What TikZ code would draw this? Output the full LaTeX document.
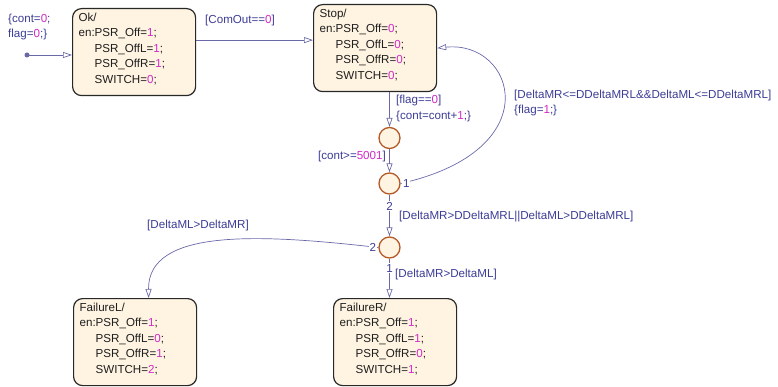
\documentclass[tikz,border=0pt]{standalone}
\usepackage{fontspec}
\setmainfont{Liberation Sans}
\usetikzlibrary{arrows.meta}
\definecolor{boxfill}{RGB}{255,244,226}
\definecolor{boxline}{RGB}{40,40,40}
\definecolor{boxtext}{RGB}{30,30,30}
\definecolor{juncline}{RGB}{180,90,40}
\definecolor{trcol}{RGB}{105,105,170}
\definecolor{lblcol}{RGB}{60,60,150}
\definecolor{numcol}{RGB}{210,40,200}
\newcommand{\nm}[1]{\textcolor{numcol}{#1}}
\newcommand{\stbody}[5]{\parbox[t][79pt][t]{111pt}{\fontsize{11.6}{15.5}\selectfont
  #1/\\en:PSR\_Off=\nm{#2};\\\hspace*{16pt}PSR\_OffL=\nm{#3};\\
  \hspace*{16pt}PSR\_OffR=\nm{#4};\\\hspace*{16pt}SWITCH=\nm{#5};}}

\begin{document}
\begin{tikzpicture}[x=1pt,y=-1pt,
    state/.style={draw=boxline, fill=boxfill, rounded corners=9pt, line width=1.2pt,
      minimum width=123pt, minimum height=87pt, inner sep=0pt, anchor=north west, text=boxtext},
    junc/.style={circle, draw=juncline, fill=boxfill, line width=1.3pt, minimum size=21pt, inner sep=0pt},
    tr/.style={draw=trcol, line width=0.7pt, -{Triangle[open,length=9pt,width=6pt]}},
    lbl/.style={text=lblcol, inner sep=0pt, font=\fontsize{11.6}{15.5}\selectfont, align=left},
    ord/.style={text=lblcol, fill=white, inner sep=1pt, font=\fontsize{11.6}{12}\selectfont}]
        \useasboundingbox (0,0) rectangle (778,387);
        % states
        \node[state] (ok) at (72,8) {\stbody{Ok}{1}{1}{1}{0}};
        \node[state] (stop) at (313,4) {\stbody{Stop}{0}{0}{0}{0}};
        \node[state] (failL) at (73,298) {\stbody{FailureL}{1}{0}{1}{2}};
        \node[state] (failR) at (333,298) {\stbody{FailureR}{1}{1}{0}{1}};
        % junctions
        \node[junc] (j1) at (389.5,138) {};
        \node[junc] (j2) at (389.5,183.5) {};
        \node[junc] (j3) at (389.5,247.5) {};
        % default transition
        \coordinate (init) at (27,55);
        \fill[trcol] (init) circle (2.5pt);
        \draw[tr] (init) -- (init -| ok.west);
        \node[lbl, anchor=west] (initlbl) at (8,27) {\{cont=\nm{0};\\flag=\nm{0};\}};
        % transitions
        \draw[tr] ([yshift=12pt]ok.east) -- ([yshift=12pt]ok.east -| stop.west);
        \node[lbl, anchor=west] (comlbl) at (205,21) {[ComOut==\nm{0}]};
        \draw[tr] (j1 |- stop.south) -- (j1);
        \node[lbl, anchor=west] (flaglbl) at (396,108.5) {[flag==\nm{0}]\\\{cont=cont+\nm{1};\}};
        \draw[tr] (j1) -- (j2);
        \node[lbl, anchor=east] (contlbl) at (386,157) {[cont>=\nm{5001}]};
        \draw[tr] (j2.east) .. controls (550,150) and (515,40) ..
            node[ord, at start, anchor=west, xshift=1pt] (o1) {1} (stop.east);
        \node[lbl, anchor=west] (backlbl) at (514,103)
            {[DeltaMR<=DDeltaMRL\&\&DeltaML<=DDeltaMRL]\\\{flag=\nm{1};\}};
        \draw[tr] (j2) -- node[ord, pos=0.28] (o2) {2} (j3);
        \node[lbl, anchor=west] (faillbl) at (399,217) {[DeltaMR>DDeltaMRL||DeltaML>DDeltaMRL]};
        \draw[tr] (j3.west) .. controls (260,234) and (148,228) ..
            node[ord, at start, anchor=east, xshift=-1pt] (o3) {2} ([xshift=13.5pt]failL.north);
        \node[lbl, anchor=west] (leftlbl) at (147,226) {[DeltaML>DeltaMR]};
        \draw[tr] (j3) -- node[ord, pos=0.25] (o4) {1} (j3 |- failR.north);
        \node[lbl, anchor=west] (rightlbl) at (395,275) {[DeltaMR>DeltaML]};
    \end{tikzpicture}
\end{document}
